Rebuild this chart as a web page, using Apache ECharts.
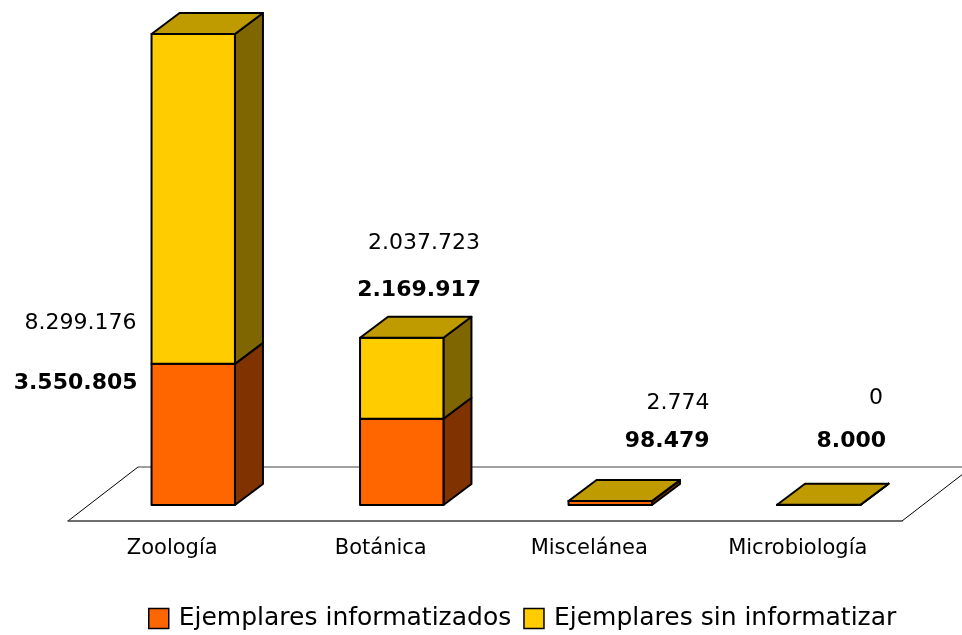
<!DOCTYPE html>
<html>
<head>
<meta charset="utf-8">
<script src="https://cdn.jsdelivr.net/npm/echarts@6/dist/echarts.min.js"></script>
<style>
html,body{margin:0;padding:0;background:#fff;}
#chart{width:962px;height:635px;}
</style>
</head>
<body>
<div id="chart"></div>
<script>
// ---- data ----
var categories = ['Zoología', 'Botánica', 'Miscelánea', 'Microbiología'];
var informatizados = [3550805, 2169917, 98479, 8000];
var sinInformatizar = [8299176, 2037723, 2774, 0];
var seriesNames = ['Ejemplares informatizados', 'Ejemplares sin informatizar'];

// ---- layout / style ----
var FONT = '"DejaVu Sans", Verdana, sans-serif';
var DEPTH_X = 28, DEPTH_Y = -21;
var colors = {
  orange: { front: '#FF6600', side: '#803300', top: '#C04D00' },
  yellow: { front: '#FFCC00', side: '#806600', top: '#BF9B00' }
};
// label offsets relative to bar front-left x and baseline y: [dxNormal, dyNormal, dxBold, dyBold]
var labelOffsets = [[-15, -182, -14, -122], [120, -262, 121, -215], [141, -102, 141, -64], [106, -107, 109, -64]];

function fmt(n) {
  return String(n).replace(/\B(?=(\d{3})+(?!\d))/g, '.');
}

var orangeData = informatizados.map(function (v, i) { return [i, 0, v]; });
var yellowData = sinInformatizar.map(function (v, i) { return [i, informatizados[i], informatizados[i] + v]; });
var labelData = categories.map(function (c, i) { return [i, 0, sinInformatizar[i], informatizados[i]]; });

var strokeStyle = { stroke: '#000', lineWidth: 2, lineJoin: 'round' };

function makeBarRenderer(pal, drawTop) {
  return function (params, api) {
    var cat = api.value(0), lo = api.value(1), hi = api.value(2);
    var pb = api.coord([cat, lo]);
    var pt = api.coord([cat, hi]);
    var w = api.size([1, 0])[0] * 0.4;
    var x0 = pb[0] - w / 2, x1 = pb[0] + w / 2;
    var yb = pb[1], yt = pt[1];
    var children = [
      { type: 'polygon', shape: { points: [[x1, yt], [x1 + DEPTH_X, yt + DEPTH_Y], [x1 + DEPTH_X, yb + DEPTH_Y], [x1, yb]] },
        style: Object.assign({ fill: pal.side }, strokeStyle) },
      { type: 'rect', shape: { x: x0, y: yt, width: w, height: yb - yt },
        style: Object.assign({ fill: pal.front }, strokeStyle) }
    ];
    if (drawTop) {
      children.push({ type: 'polygon', shape: { points: [[x0, yt], [x0 + DEPTH_X, yt + DEPTH_Y], [x1 + DEPTH_X, yt + DEPTH_Y], [x1, yt]] },
        style: Object.assign({ fill: pal.top }, strokeStyle) });
    }
    return { type: 'group', children: children };
  };
}

function renderFloor(params, api) {
  var p0 = api.coord([0, 0]);
  var p3 = api.coord([categories.length - 1, 0]);
  var cw = api.size([1, 0])[0];
  var L = p0[0] - cw / 2 - 21, R = p3[0] + cw / 2 - 21;
  var yF = p0[1] + 16, yB = p0[1] - 38, dx = 70;
  return { type: 'group', children: [
    { type: 'polygon', shape: { points: [[L, yF], [R, yF], [R + dx, yB], [L + dx, yB]] }, style: { fill: '#fff' } },
    { type: 'line', shape: { x1: L + dx, y1: yB, x2: R + dx, y2: yB }, style: { stroke: '#808080', lineWidth: 1.5 } },
    { type: 'line', shape: { x1: L, y1: yF, x2: L + dx, y2: yB }, style: { stroke: '#000', lineWidth: 1 } },
    { type: 'line', shape: { x1: R, y1: yF, x2: R + dx, y2: yB }, style: { stroke: '#000', lineWidth: 1 } }
  ] };
}

function renderLabels(params, api) {
  var i = api.value(0);
  var pb = api.coord([i, 0]);
  var w = api.size([1, 0])[0] * 0.4;
  var xl = pb[0] - w / 2;
  var o = labelOffsets[i];
  return { type: 'group', children: [
    { type: 'text', style: { text: fmt(api.value(2)), x: xl + o[0], y: pb[1] + o[1], textAlign: 'right', textVerticalAlign: 'middle',
      font: 'normal 22px ' + FONT, fill: '#000' } },
    { type: 'text', style: { text: fmt(api.value(3)), x: xl + o[2], y: pb[1] + o[3], textAlign: 'right', textVerticalAlign: 'middle',
      font: 'bold 22px ' + FONT, fill: '#000' } }
  ] };
}

var chart = echarts.init(document.getElementById('chart'), null, { renderer: 'canvas' });
chart.setOption({
  backgroundColor: '#fff',
  animation: false,
  textStyle: { fontFamily: FONT },
  grid: [
    { left: 89, right: 39, top: 28, bottom: 130 },
    { left: 68, right: 60, top: 28, bottom: 114 }
  ],
  xAxis: [
    { type: 'category', data: categories, gridIndex: 0, show: false },
    { type: 'category', data: categories, gridIndex: 1, z: 10,
      axisLine: { lineStyle: { color: '#404040', width: 1.5 } },
      axisTick: { length: 9, lineStyle: { color: '#404040', width: 1 } },
      axisLabel: { fontSize: 21, color: '#000', fontFamily: FONT, margin: 17 } }
  ],
  yAxis: [
    { type: 'value', min: 0, max: 12000000, gridIndex: 0, show: false },
    { type: 'value', min: 0, max: 1, gridIndex: 1, show: false }
  ],
  legend: {
    left: 143, top: 601,
    itemWidth: 20, itemHeight: 20, itemGap: 12,
    icon: 'rect',
    data: seriesNames,
    itemStyle: { borderColor: '#000', borderWidth: 1.5 },
    textStyle: { fontSize: 25, color: '#000', fontFamily: FONT, padding: [0, 0, 0, 5] }
  },
  series: [
    { type: 'custom', name: 'floor', data: [[0]], renderItem: renderFloor, z: 1, silent: true, clip: false },
    { type: 'custom', name: seriesNames[0], data: orangeData, renderItem: makeBarRenderer(colors.orange, false), z: 3,
      itemStyle: { color: colors.orange.front }, encode: { x: 0, y: [1, 2] }, clip: false },
    { type: 'custom', name: seriesNames[1], data: yellowData, renderItem: makeBarRenderer(colors.yellow, true), z: 3,
      itemStyle: { color: colors.yellow.front }, encode: { x: 0, y: [1, 2] }, clip: false },
    { type: 'custom', name: 'labels', data: labelData, renderItem: renderLabels, z: 5, silent: true, clip: false }
  ]
});
</script>
</body>
</html>
